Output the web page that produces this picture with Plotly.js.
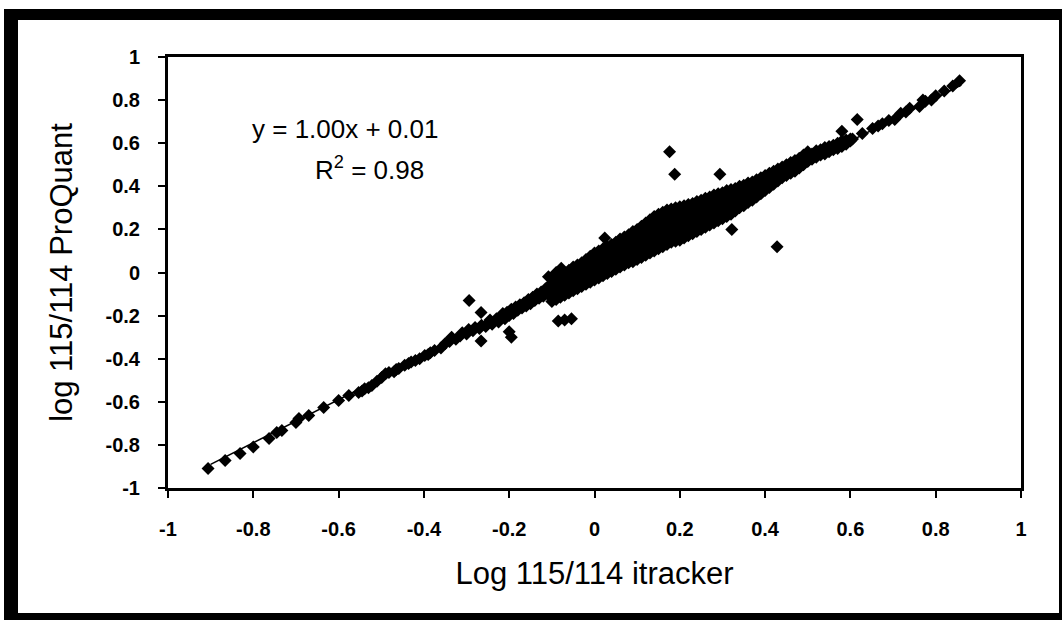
<!DOCTYPE html>
<html>
<head>
<meta charset="utf-8">
<script src="https://cdn.plot.ly/plotly-3.0.1.min.js"></script>
<style>
  html, body { margin: 0; padding: 0; background: #ffffff; }
  #wrap { position: relative; width: 1062px; height: 620px; overflow: hidden; }
  #chart { position: absolute; left: 0; top: 0; width: 1062px; height: 620px; }
  #frame { position: absolute; left: 4px; top: 9px; width: 1058px; height: 611px;
           box-sizing: border-box; border-style: solid; border-color: #000;
           border-width: 11px 3px 7px 14px; pointer-events: none; }
</style>
</head>
<body>
<div id="wrap">
  <div id="chart"></div>
  <div id="frame"></div>
</div>
<script>
// ---- data ----
// sparse lower-left part of the line
const lowX = [-0.906, -0.866, -0.831, -0.80, -0.763, -0.745, -0.733, -0.70, -0.693, -0.67, -0.635, -0.60, -0.576, -0.553, -0.545, -0.539, -0.53, -0.522, -0.51, -0.499, -0.49, -0.482, -0.47, -0.465, -0.459, -0.445, -0.436, -0.43, -0.42, -0.41, -0.398, -0.39, -0.385, -0.375];
const lowY = [-0.91, -0.872, -0.84, -0.81, -0.77, -0.742, -0.733, -0.696, -0.678, -0.663, -0.626, -0.594, -0.571, -0.557, -0.55, -0.539, -0.535, -0.524, -0.505, -0.487, -0.47, -0.464, -0.46, -0.45, -0.445, -0.43, -0.422, -0.415, -0.408, -0.40, -0.385, -0.38, -0.372, -0.362];

// middle-lower band
const midX = [-0.36, -0.35, -0.34, -0.335, -0.325, -0.315, -0.31, -0.30, -0.295, -0.285, -0.28, -0.27, -0.265, -0.255, -0.25, -0.245, -0.24, -0.23, -0.225, -0.22, -0.215, -0.21, -0.205, -0.20, -0.195, -0.19, -0.185, -0.18, -0.175, -0.17, -0.165, -0.16, -0.155, -0.15, -0.145, -0.14, -0.135, -0.13, -0.125, -0.12, -0.115, -0.11, -0.105];
const midY = [-0.35, -0.33, -0.32, -0.30, -0.31, -0.295, -0.28, -0.285, -0.265, -0.27, -0.255, -0.26, -0.245, -0.25, -0.235, -0.22, -0.24, -0.215, -0.23, -0.205, -0.19, -0.215, -0.185, -0.20, -0.17, -0.19, -0.16, -0.175, -0.15, -0.165, -0.14, -0.155, -0.125, -0.145, -0.115, -0.13, -0.10, -0.12, -0.09, -0.11, -0.075, -0.10, -0.065];

// dense central cloud (columns, first set)
const denseX = [
  -0.10,-0.10,-0.10,-0.10, -0.09,-0.09,-0.09,-0.09, -0.08,-0.08,-0.08,-0.08, -0.07,-0.07,-0.07,-0.07,
  -0.06,-0.06,-0.06,-0.06, -0.05,-0.05,-0.05,-0.05, -0.04,-0.04,-0.04,-0.04, -0.03,-0.03,-0.03,-0.03,
  -0.02,-0.02,-0.02,-0.02, -0.01,-0.01,-0.01,-0.01, 0.00,0.00,0.00,0.00, 0.01,0.01,0.01,0.01,
  0.02,0.02,0.02,0.02, 0.03,0.03,0.03,0.03, 0.04,0.04,0.04,0.04, 0.05,0.05,0.05,0.05,
  0.06,0.06,0.06,0.06, 0.07,0.07,0.07,0.07, 0.08,0.08,0.08,0.08, 0.09,0.09,0.09,0.09,
  0.10,0.10,0.10,0.10, 0.11,0.11,0.11,0.11, 0.12,0.12,0.12,0.12, 0.13,0.13,0.13,0.13,
  0.14,0.14,0.14,0.14, 0.15,0.15,0.15,0.15, 0.16,0.16,0.16,0.16, 0.17,0.17,0.17,0.17,
  0.18,0.18,0.18,0.18, 0.19,0.19,0.19,0.19, 0.20,0.20,0.20,0.20, 0.21,0.21,0.21,0.21,
  0.22,0.22,0.22,0.22, 0.23,0.23,0.23,0.23, 0.24,0.24,0.24,0.24, 0.25,0.25,0.25,0.25,
  0.26,0.26,0.26,0.26, 0.27,0.27,0.27,0.27, 0.28,0.28,0.28,0.28, 0.29,0.29,0.29,0.29,
  0.30,0.30,0.30,0.30, 0.31,0.31,0.31,0.31, 0.32,0.32,0.32,0.32, 0.33,0.33,0.33,0.33,
  0.34,0.34,0.34,0.34, 0.35,0.35,0.35,0.35, 0.36,0.36,0.36,0.36, 0.37,0.37,0.37,0.37
];
const denseY = [
  -0.135,-0.10,-0.065,-0.03, -0.125,-0.09,-0.055,-0.02, -0.115,-0.08,-0.045,-0.01, -0.105,-0.07,-0.035,0.00,
  -0.095,-0.06,-0.025,0.01, -0.085,-0.05,-0.015,0.025, -0.075,-0.04,-0.005,0.035, -0.065,-0.03,0.005,0.045,
  -0.055,-0.02,0.02,0.06, -0.045,-0.01,0.03,0.075, -0.035,0.005,0.045,0.09, -0.025,0.015,0.055,0.10,
  -0.015,0.025,0.07,0.11, -0.005,0.035,0.08,0.12, 0.005,0.045,0.09,0.13, 0.015,0.055,0.10,0.14,
  0.025,0.065,0.11,0.155, 0.035,0.08,0.12,0.165, 0.045,0.09,0.13,0.175, 0.05,0.095,0.14,0.19,
  0.06,0.105,0.15,0.20, 0.07,0.12,0.165,0.215, 0.08,0.13,0.18,0.23, 0.09,0.14,0.19,0.245,
  0.10,0.15,0.205,0.26, 0.11,0.16,0.215,0.27, 0.12,0.17,0.225,0.28, 0.13,0.18,0.235,0.29,
  0.14,0.19,0.245,0.295, 0.145,0.195,0.25,0.30, 0.15,0.205,0.255,0.305, 0.16,0.21,0.26,0.31,
  0.17,0.22,0.27,0.315, 0.18,0.23,0.275,0.32, 0.19,0.235,0.285,0.33, 0.20,0.245,0.29,0.335,
  0.21,0.255,0.30,0.345, 0.22,0.265,0.31,0.35, 0.23,0.275,0.32,0.36, 0.24,0.285,0.325,0.365,
  0.25,0.29,0.33,0.37, 0.26,0.30,0.34,0.38, 0.27,0.31,0.35,0.385, 0.285,0.32,0.355,0.39,
  0.30,0.335,0.37,0.40, 0.31,0.345,0.375,0.405, 0.325,0.355,0.385,0.415, 0.335,0.365,0.395,0.42
];

// dense central cloud (second set, between the first)
const dense2X = [
  -0.10,-0.10,-0.10, -0.09,-0.09,-0.09, -0.08,-0.08,-0.08, -0.07,-0.07,-0.07,
  -0.06,-0.06,-0.06, -0.05,-0.05,-0.05, -0.04,-0.04,-0.04, -0.03,-0.03,-0.03,
  -0.02,-0.02,-0.02, -0.01,-0.01,-0.01, 0.00,0.00,0.00, 0.01,0.01,0.01,
  0.02,0.02,0.02, 0.03,0.03,0.03, 0.04,0.04,0.04, 0.05,0.05,0.05,
  0.06,0.06,0.06, 0.07,0.07,0.07, 0.08,0.08,0.08, 0.09,0.09,0.09,
  0.10,0.10,0.10, 0.11,0.11,0.11, 0.12,0.12,0.12, 0.13,0.13,0.13,
  0.14,0.14,0.14, 0.15,0.15,0.15, 0.16,0.16,0.16, 0.17,0.17,0.17,
  0.18,0.18,0.18, 0.19,0.19,0.19, 0.20,0.20,0.20, 0.21,0.21,0.21,
  0.22,0.22,0.22, 0.23,0.23,0.23, 0.24,0.24,0.24, 0.25,0.25,0.25,
  0.26,0.26,0.26, 0.27,0.27,0.27, 0.28,0.28,0.28, 0.29,0.29,0.29,
  0.30,0.30,0.30, 0.31,0.31,0.31, 0.32,0.32,0.32, 0.33,0.33,0.33,
  0.34,0.34,0.34, 0.35,0.35,0.35, 0.36,0.36,0.36, 0.37,0.37,0.37
];
const dense2Y = [
  -0.118,-0.083,-0.048, -0.108,-0.073,-0.038, -0.098,-0.063,-0.028, -0.088,-0.053,-0.018,
  -0.078,-0.043,-0.008, -0.068,-0.033,0.005, -0.058,-0.023,0.015, -0.048,-0.013,0.025,
  -0.038,0.00,0.04, -0.028,0.01,0.053, -0.015,0.025,0.068, -0.005,0.035,0.078,
  0.005,0.048,0.09, 0.015,0.058,0.10, 0.025,0.068,0.11, 0.035,0.078,0.12,
  0.045,0.088,0.133, 0.058,0.10,0.143, 0.068,0.11,0.153, 0.073,0.118,0.165,
  0.083,0.128,0.175, 0.095,0.143,0.19, 0.105,0.155,0.205, 0.115,0.165,0.218,
  0.125,0.178,0.233, 0.135,0.188,0.243, 0.145,0.198,0.253, 0.155,0.208,0.263,
  0.165,0.218,0.27, 0.17,0.223,0.275, 0.178,0.23,0.28, 0.185,0.235,0.285,
  0.195,0.245,0.293, 0.205,0.253,0.298, 0.213,0.26,0.308, 0.223,0.268,0.313,
  0.233,0.278,0.323, 0.243,0.288,0.33, 0.253,0.298,0.34, 0.263,0.305,0.345,
  0.27,0.31,0.35, 0.28,0.32,0.36, 0.29,0.33,0.368, 0.303,0.338,0.373,
  0.318,0.353,0.385, 0.328,0.36,0.39, 0.34,0.37,0.40, 0.35,0.38,0.408
];

// upper band
const upX = [0.38,0.38,0.38, 0.39,0.39,0.39, 0.40,0.40,0.40, 0.41,0.41,0.41, 0.42,0.42,0.42, 0.43,0.43,0.43, 0.44,0.44,0.44, 0.45,0.45,0.45, 0.46,0.46,0.46, 0.47,0.47,0.47, 0.48,0.48,0.48, 0.49,0.49,0.49, 0.50,0.50,0.50, 0.51,0.51, 0.52,0.52, 0.53,0.53, 0.54,0.54, 0.55,0.55, 0.56,0.56, 0.57,0.57, 0.58,0.58, 0.59,0.59, 0.60,0.60];
const upY = [0.35,0.39,0.43, 0.365,0.40,0.44, 0.38,0.415,0.45, 0.395,0.43,0.46, 0.41,0.445,0.47, 0.425,0.455,0.48, 0.44,0.465,0.49, 0.45,0.475,0.50, 0.46,0.485,0.51, 0.47,0.495,0.52, 0.485,0.51,0.53, 0.50,0.525,0.545, 0.515,0.54,0.56, 0.525,0.55, 0.535,0.565, 0.545,0.57, 0.55,0.58, 0.56,0.585, 0.57,0.59, 0.575,0.60, 0.585,0.61, 0.595,0.615, 0.61,0.62];
const up2X = [0.38,0.38, 0.39,0.39, 0.40,0.40, 0.41,0.41, 0.42,0.42, 0.43,0.43, 0.44,0.44, 0.45,0.45, 0.46,0.46, 0.47,0.47, 0.48,0.48, 0.49,0.49, 0.50,0.50];
const up2Y = [0.37,0.41, 0.383,0.42, 0.398,0.433, 0.413,0.445, 0.428,0.458, 0.44,0.468, 0.453,0.478, 0.463,0.488, 0.473,0.498, 0.483,0.508, 0.498,0.52, 0.513,0.535, 0.528,0.55];

// sparse upper-right part
const topX = [0.58, 0.605, 0.628, 0.652, 0.665, 0.675, 0.69, 0.704, 0.718, 0.73, 0.739, 0.762, 0.77, 0.776, 0.79, 0.80, 0.82, 0.84, 0.856];
const topY = [0.655, 0.62, 0.645, 0.668, 0.68, 0.69, 0.705, 0.71, 0.739, 0.745, 0.762, 0.77, 0.80, 0.795, 0.80, 0.82, 0.842, 0.866, 0.89];

// points away from the line
const outX = [-0.294, -0.266, -0.266, -0.20, -0.195, -0.09, -0.085, -0.07, -0.054, -0.108, -0.078, 0.024, 0.176, 0.188, 0.294, 0.322, 0.428, 0.616];
const outY = [-0.13, -0.186, -0.318, -0.275, -0.30, 0.00, -0.225, -0.22, -0.215, -0.02, 0.02, 0.16, 0.56, 0.456, 0.456, 0.20, 0.12, 0.71];

// fitted trend line ends
const trendX = [-0.90, 0.86];
const trendY = [-0.89, 0.87];

// axis ticks
const tickVals = [-1, -0.8, -0.6, -0.4, -0.2, 0, 0.2, 0.4, 0.6, 0.8, 1];
const tickText = ['-1', '-0.8', '-0.6', '-0.4', '-0.2', '0', '0.2', '0.4', '0.6', '0.8', '1'];

// texts
const xTitle = 'Log 115/114 itracker';
const yTitle = 'log 115/114 ProQuant';
const eqText = 'y = 1.00x + 0.01';
const r2Text = 'R<sup>2</sup> = 0.98';

// ---- chart ----
const allX = [].concat(lowX, midX, denseX, dense2X, upX, up2X, topX, outX);
const allY = [].concat(lowY, midY, denseY, dense2Y, upY, up2Y, topY, outY);

const FONT = 'Liberation Sans, Arial, sans-serif';

const traces = [
  { x: trendX, y: trendY, type: 'scatter', mode: 'lines',
    line: { color: '#000', width: 1.5 }, hoverinfo: 'skip', showlegend: false },
  { x: allX, y: allY, type: 'scatter', mode: 'markers',
    marker: { symbol: 'diamond', size: 10, color: '#000', line: { width: 0 } },
    showlegend: false }
];

const axisCommon = {
  range: [-1, 1], tickmode: 'array', tickvals: tickVals, ticktext: tickText,
  ticks: 'outside', ticklen: 7, tickwidth: 2, tickcolor: '#000',
  showline: true, linewidth: 3, linecolor: '#000', mirror: true,
  showgrid: false, zeroline: false,
  tickfont: { family: FONT, size: 20, color: '#000', weight: 'bold' }
};

const layout = {
  width: 1062, height: 620,
  margin: { l: 168, r: 41, t: 57, b: 132, pad: 0 },
  paper_bgcolor: '#fff', plot_bgcolor: '#fff',
  showlegend: false,
  xaxis: Object.assign({}, axisCommon, {
    ticklabelstandoff: 14,
    title: { text: xTitle, font: { family: FONT, size: 31, color: '#000' }, standoff: 24 }
  }),
  yaxis: Object.assign({}, axisCommon, {
    ticklabelstandoff: 14,
    title: { text: yTitle, font: { family: FONT, size: 31, color: '#000' }, standoff: 24 }
  }),
  annotations: [
    { x: -0.585, y: 0.668, xref: 'x', yref: 'y', text: eqText, showarrow: false,
      font: { family: FONT, size: 26, color: '#000' } },
    { x: -0.527, y: 0.483, xref: 'x', yref: 'y', text: r2Text, showarrow: false,
      font: { family: FONT, size: 26, color: '#000' } }
  ]
};

Plotly.newPlot('chart', traces, layout, { staticPlot: true, displayModeBar: false });
</script>
</body>
</html>
